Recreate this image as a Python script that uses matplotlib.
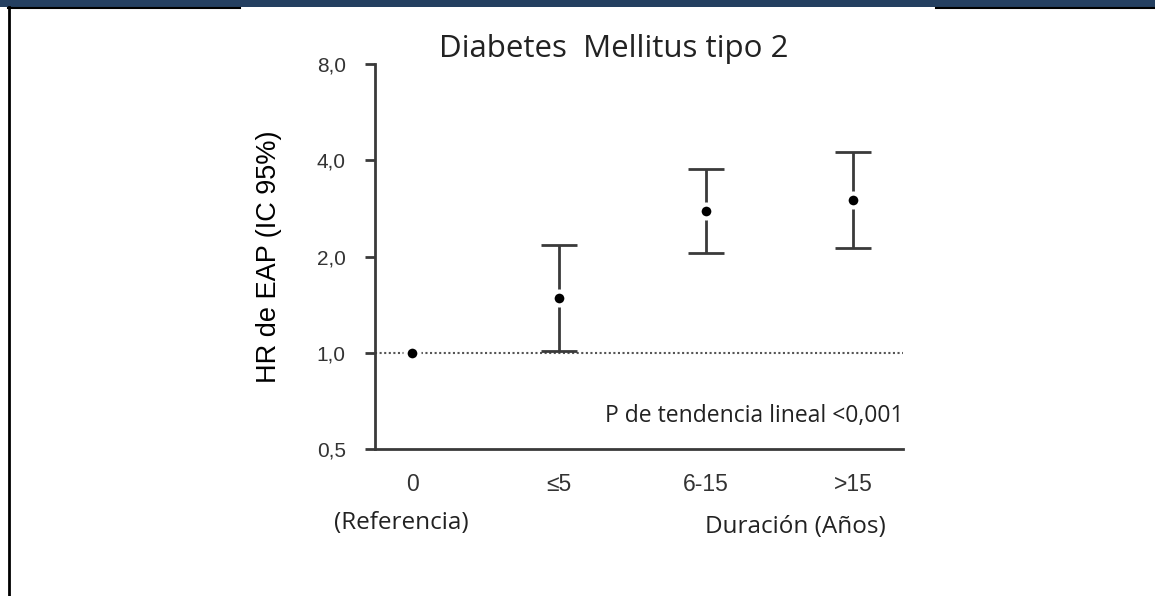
import matplotlib
matplotlib.use("Agg")
import matplotlib.pyplot as plt
from matplotlib.patches import Rectangle
from matplotlib.lines import Line2D
from matplotlib.ticker import FixedLocator, NullLocator

# hazard ratios by diabetes duration
categorias = ["0", "≤5", "6-15", ">15"]
hr = [1.0, 1.48, 2.77, 3.0]
ic_inf = [1.0, 1.01, 2.05, 2.13]
ic_sup = [1.0, 2.17, 3.75, 4.24]
y_ticks = [0.5, 1.0, 2.0, 4.0, 8.0]
y_labels = ["0,5", "1,0", "2,0", "4,0", "8,0"]

gris = "#3a3a3a"
fig = plt.figure(figsize=(11.55, 5.96), dpi=100)

# page frame: blue band on top, black rules
fig.add_artist(Rectangle((0, 1 - 7 / 596), 1, 7 / 596, transform=fig.transFigure,
                         facecolor="#243f60", edgecolor="none"))
fig.add_artist(Line2D([8 / 1155, 240 / 1155], [1 - 8 / 596] * 2, transform=fig.transFigure,
                      color="black", lw=1.5))
fig.add_artist(Line2D([936 / 1155, 1], [1 - 8 / 596] * 2, transform=fig.transFigure,
                      color="black", lw=1.5))
fig.add_artist(Line2D([9 / 1155] * 2, [0, 1 - 7 / 596], transform=fig.transFigure,
                      color="black", lw=2))

ax = fig.add_axes([0.3247, 0.2466, 0.4572, 0.646])
x = list(range(len(categorias)))

ax.axhline(1.0, color="#555555", ls=(0, (1, 1.2)), lw=1.5, zorder=1)

err_lo = [h - l for h, l in zip(hr, ic_inf)]
err_hi = [u - h for h, u in zip(hr, ic_sup)]
ax.errorbar(x[1:], hr[1:], yerr=[err_lo[1:], err_hi[1:]], fmt="none",
            ecolor=gris, elinewidth=2, capsize=13, capthick=2, zorder=2)
ax.plot(x, hr, "o", color="black", markersize=10, markeredgecolor="white",
        markeredgewidth=3, zorder=3)

ax.set_yscale("log", base=2)
ax.set_ylim(0.5, 8.0)
ax.set_xlim(-0.252, 3.34)
ax.yaxis.set_major_locator(FixedLocator(y_ticks))
ax.yaxis.set_minor_locator(NullLocator())
ax.set_yticklabels(y_labels)
ax.set_xticks(x)
ax.set_xticklabels(categorias)

for s in ["top", "right"]:
    ax.spines[s].set_visible(False)
for s in ["left", "bottom"]:
    ax.spines[s].set_color(gris)
    ax.spines[s].set_linewidth(2)
ax.tick_params(axis="y", length=7, width=2, color=gris, labelsize=15,
               labelcolor="#333333", pad=14)
ax.tick_params(axis="x", length=0, labelsize=16.5, labelcolor="#333333", pad=17)
for t in ax.get_xticklabels() + ax.get_yticklabels():
    t.set_fontfamily("Liberation Sans")

ax.set_ylabel("HR de EAP (IC 95%)", fontsize=19.5, family="Liberation Sans",
              color="black", labelpad=25)
ax.set_title("Diabetes  Mellitus tipo 2", fontsize=22.5, family="Open Sans",
             color="#222222", pad=4, x=0.453)

txt = dict(family="Open Sans", color="#222222")
ax.text(1.0, 0.085, "P de tendencia lineal <0,001", transform=ax.transAxes,
        ha="right", va="center", fontsize=16.5, **txt)
ax.text(-0.07, -0.192, "(Referencia)", transform=ax.get_xaxis_transform(),
        ha="center", va="center", fontsize=17.5, **txt)
ax.text(0.968, -0.202, "Duración (Años)", transform=ax.transAxes,
        ha="right", va="center", fontsize=17.5, **txt)

fig.savefig("out.png", dpi=100)
